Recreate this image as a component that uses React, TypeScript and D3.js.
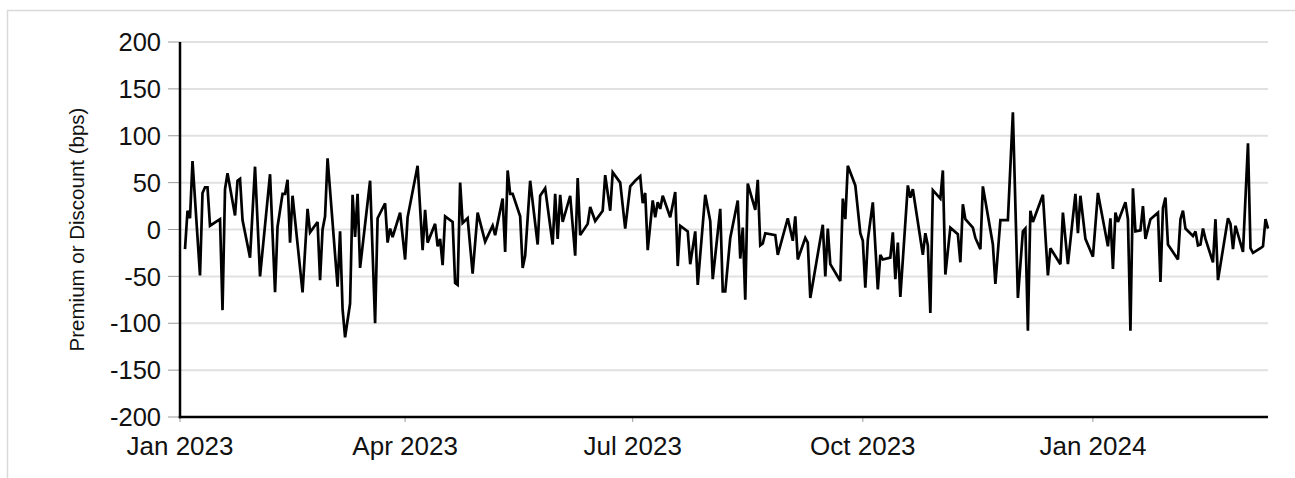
import * as d3 from "d3"

// daily premium/discount readings (bps)
const dates = [
  "2023-01-03", "2023-01-04", "2023-01-05", "2023-01-06", "2023-01-09", "2023-01-10", "2023-01-11", "2023-01-12", "2023-01-13", "2023-01-17",
  "2023-01-18", "2023-01-19", "2023-01-20", "2023-01-23", "2023-01-24", "2023-01-25", "2023-01-26", "2023-01-29", "2023-01-31", "2023-02-02",
  "2023-02-06", "2023-02-08", "2023-02-09", "2023-02-11", "2023-02-12", "2023-02-13", "2023-02-14", "2023-02-15", "2023-02-19", "2023-02-21",
  "2023-02-22", "2023-02-25", "2023-02-26", "2023-02-27", "2023-02-28", "2023-03-01", "2023-03-05", "2023-03-06", "2023-03-07", "2023-03-08",
  "2023-03-10", "2023-03-11", "2023-03-12", "2023-03-13", "2023-03-14", "2023-03-18", "2023-03-20", "2023-03-21", "2023-03-24", "2023-03-25",
  "2023-03-26", "2023-03-27", "2023-03-30", "2023-04-01", "2023-04-02", "2023-04-06", "2023-04-08", "2023-04-09", "2023-04-10", "2023-04-13",
  "2023-04-14", "2023-04-15", "2023-04-16", "2023-04-17", "2023-04-20", "2023-04-21", "2023-04-22", "2023-04-23", "2023-04-24", "2023-04-26",
  "2023-04-28", "2023-04-30", "2023-05-03", "2023-05-06", "2023-05-07", "2023-05-10", "2023-05-11", "2023-05-12", "2023-05-13", "2023-05-14",
  "2023-05-17", "2023-05-18", "2023-05-19", "2023-05-21", "2023-05-24", "2023-05-25", "2023-05-27", "2023-05-30", "2023-05-31", "2023-06-01",
  "2023-06-02", "2023-06-03", "2023-06-06", "2023-06-08", "2023-06-09", "2023-06-10", "2023-06-13", "2023-06-14", "2023-06-16", "2023-06-19",
  "2023-06-20", "2023-06-22", "2023-06-23", "2023-06-26", "2023-06-28", "2023-06-30", "2023-07-02", "2023-07-04", "2023-07-05", "2023-07-06",
  "2023-07-07", "2023-07-09", "2023-07-10", "2023-07-11", "2023-07-12", "2023-07-13", "2023-07-16", "2023-07-18", "2023-07-19", "2023-07-20",
  "2023-07-23", "2023-07-24", "2023-07-26", "2023-07-27", "2023-07-30", "2023-08-01", "2023-08-02", "2023-08-05", "2023-08-06", "2023-08-07",
  "2023-08-09", "2023-08-12", "2023-08-13", "2023-08-14", "2023-08-15", "2023-08-16", "2023-08-19", "2023-08-20", "2023-08-21", "2023-08-22",
  "2023-08-23", "2023-08-27", "2023-08-28", "2023-09-01", "2023-09-03", "2023-09-04", "2023-09-05", "2023-09-08", "2023-09-09", "2023-09-10",
  "2023-09-15", "2023-09-16", "2023-09-17", "2023-09-18", "2023-09-22", "2023-09-23", "2023-09-24", "2023-09-25", "2023-09-28", "2023-09-30",
  "2023-10-01", "2023-10-02", "2023-10-03", "2023-10-05", "2023-10-07", "2023-10-08", "2023-10-09", "2023-10-12", "2023-10-13", "2023-10-14",
  "2023-10-15", "2023-10-16", "2023-10-19", "2023-10-20", "2023-10-21", "2023-10-25", "2023-10-26", "2023-10-27", "2023-10-28", "2023-10-29",
  "2023-11-01", "2023-11-02", "2023-11-03", "2023-11-05", "2023-11-08", "2023-11-09", "2023-11-10", "2023-11-11", "2023-11-14", "2023-11-15",
  "2023-11-17", "2023-11-18", "2023-11-22", "2023-11-23", "2023-11-25", "2023-11-28", "2023-11-30", "2023-12-02", "2023-12-04", "2023-12-05",
  "2023-12-06", "2023-12-07", "2023-12-08", "2023-12-12", "2023-12-14", "2023-12-15", "2023-12-19", "2023-12-20", "2023-12-22", "2023-12-25",
  "2023-12-26", "2023-12-27", "2023-12-29", "2024-01-01", "2024-01-03", "2024-01-07", "2024-01-08", "2024-01-09", "2024-01-10", "2024-01-11",
  "2024-01-14", "2024-01-15", "2024-01-16", "2024-01-17", "2024-01-18", "2024-01-20", "2024-01-21", "2024-01-22", "2024-01-24", "2024-01-27",
  "2024-01-28", "2024-01-29", "2024-01-30", "2024-01-31", "2024-02-04", "2024-02-05", "2024-02-06", "2024-02-07", "2024-02-10", "2024-02-11",
  "2024-02-12", "2024-02-13", "2024-02-14", "2024-02-15", "2024-02-18", "2024-02-19", "2024-02-20", "2024-02-24", "2024-02-25", "2024-02-26",
  "2024-02-27", "2024-03-01", "2024-03-03", "2024-03-04", "2024-03-05", "2024-03-08", "2024-03-09", "2024-03-10", "2024-03-11",
]

const premium = [
  -21, 20, 12, 73, -49, 39, 45, 45, 4, 11,
  -86, 43, 60, 15, 52, 54, 10, -30, 67, -50,
  59, -67, 3, 38, 38, 53, -14, 36, -67, 22,
  -3, 8, -54, 0, 14, 76, -61, -2, -85, -115,
  -79, 37, -8, 38, -41, 52, -100, 12, 28, -14,
  1, -8, 18, -32, 13, 68, -22, 21, -14, 6,
  -18, -10, -38, 14, 8, -57, -59, 50, 7, 12,
  -47, 18, -13, 4, -6, 33, -24, 63, 38, 38,
  14, -41, -28, 52, -16, 36, 44, -16, 38, -10,
  37, 8, 36, -28, 55, -6, 6, 24, 9, 20,
  58, 20, 61, 50, 1, 46, 52, 57, 28, 39,
  -22, 31, 13, 29, 22, 36, 13, 40, -39, 4,
  -2, -37, -2, -59, 37, 9, -53, 22, -66, -66,
  -9, 31, -31, 2, -75, 49, 21, 53, -17, -15,
  -4, -6, -27, 12, -12, 14, -32, -9, -14, -73,
  5, -50, 1, -37, -55, 33, 11, 68, 47, -4,
  -12, -62, -11, 29, -64, -27, -32, -30, -3, -53,
  -14, -72, 47, 34, 43, -27, -4, -17, -89, 42,
  33, 63, -48, 2, -5, -35, 27, 11, 2, -9,
  -21, 46, -16, -58, 10, 10, 125, -73, -2, 1,
  -108, 20, 8, 37, -49, -20, -37, 18, -37, 38,
  -4, 36, -10, -29, 39, -18, 12, -42, 18, 8,
  29, 11, -108, 44, -2, -1, 25, -10, 11, 18,
  -56, 23, 34, -16, -32, 11, 20, 1, -7, -2,
  -17, -16, 1, -10, -35, 11, -54, 12, 6, -21,
  4, -24, 92, -20, -25, -20, -18, 11, 1,
]

const yTicks = [200, 150, 100, 50, 0, -50, -100, -150, -200]
const xTickDates = ["2023-01-01", "2023-04-01", "2023-07-01", "2023-10-01", "2024-01-01"]
const xStart = "2023-01-01"
const xEnd = "2024-03-11"

const parse = d3.timeParse("%Y-%m-%d")
const fmt = d3.timeFormat("%b %Y")

interface Point {
  date: Date
  value: number
}

const W = 1295
const H = 478
const margin = { top: 42, right: 27, bottom: 61, left: 180 }
const FONT = "'Liberation Sans', Arial, Helvetica, sans-serif"

export default function App() {
  const points: Point[] = dates
    .map((d, i) => ({ date: parse(d) as Date, value: premium[i] }))
    .filter((p) => p.value !== undefined)

  const x = d3
    .scaleTime()
    .domain([parse(xStart) as Date, parse(xEnd) as Date])
    .range([margin.left, W - margin.right])

  const y = d3
    .scaleLinear()
    .domain([-200, 200])
    .range([H - margin.bottom, margin.top])

  const line = d3
    .line<Point>()
    .x((d) => x(d.date))
    .y((d) => y(d.value))

  const x0 = margin.left
  const x1 = W - margin.right
  const yBottom = y(-200)

  return (
    <>
      <style>{"body{margin:0}"}</style>
      <svg width={W} height={H} style={{ display: "block", background: "#fff" }} fontFamily={FONT}>
        {/* outer frame */}
        <rect x={7.5} y={10.5} width={1400} height={600} fill="none" stroke="#d9d9d9" strokeWidth={1.5} />

        {/* grid lines */}
        {yTicks.map((t) => (
          <line key={`g${t}`} x1={x0} x2={x1} y1={y(t)} y2={y(t)} stroke="#e1e1e1" strokeWidth={2} />
        ))}

        {/* y ticks + labels */}
        {yTicks.map((t) => (
          <g key={`y${t}`}>
            <line x1={168} x2={x0} y1={y(t)} y2={y(t)} stroke="#9a9a9a" strokeWidth={1} />
            <text x={161} y={y(t)} dy="0.36em" textAnchor="end" fontSize={25.5} fill="#111">
              {t}
            </text>
          </g>
        ))}

        {/* x ticks + labels */}
        {xTickDates.map((d) => {
          const px = x(parse(d) as Date)
          return (
            <g key={d}>
              <line x1={px} x2={px} y1={yBottom} y2={yBottom + 5} stroke="#9a9a9a" strokeWidth={1} />
              <text x={px} y={455} textAnchor="middle" fontSize={26} fill="#111">
                {fmt(parse(d) as Date)}
              </text>
            </g>
          )
        })}

        {/* series */}
        <path d={line(points) ?? ""} fill="none" stroke="#000" strokeWidth={2.7} strokeLinejoin="miter" strokeMiterlimit={3} />

        {/* axes */}
        <line x1={x0} x2={x0} y1={margin.top} y2={yBottom + 1.2} stroke="#000" strokeWidth={2.5} />
        <line x1={x0 - 1.2} x2={x1} y1={yBottom} y2={yBottom} stroke="#000" strokeWidth={2.5} />

        {/* y axis title */}
        <text transform={`translate(84, ${y(0)}) rotate(-90)`} textAnchor="middle" fontSize={20.5} fill="#111">
          Premium or Discount (bps)
        </text>
      </svg>
    </>
  )
}
